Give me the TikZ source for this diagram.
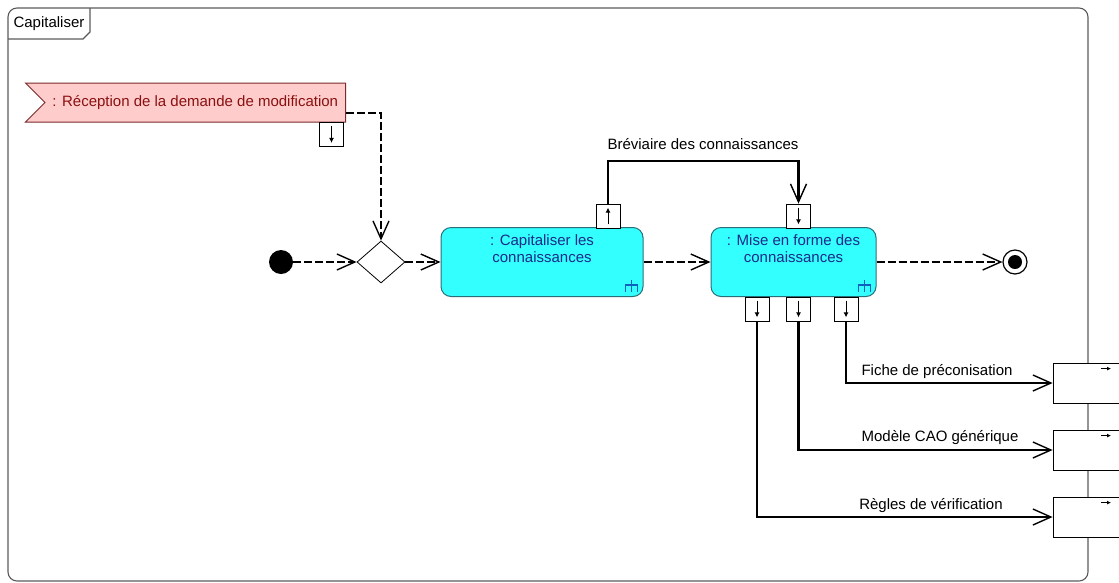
\documentclass[tikz,border=0pt]{standalone}
\usepackage{fontspec}
\setmainfont{Liberation Sans}
\usetikzlibrary{arrows.meta,shapes.geometric,shapes.symbols}
\definecolor{umlframe}{HTML}{5A5A5A}
\definecolor{umlaction}{HTML}{33FFFF}
\definecolor{umlactionedge}{HTML}{2A6E78}
\definecolor{umlactiontext}{HTML}{1A2A8A}
\definecolor{umlevent}{HTML}{FFCCCC}
\definecolor{umleventedge}{HTML}{7A2A2A}
\definecolor{umleventtext}{HTML}{8A1010}
\definecolor{umlrake}{HTML}{1060C0}

\begin{document}
\begin{tikzpicture}[
  x=1pt,
  y=-1pt,
  every node/.style={font=\fontsize{15}{17}\selectfont, inner sep=0pt},
  frame/.style={umlframe, line width=1.1pt},
  flow/.style={black, line width=2.2pt, dash pattern=on 8pt off 3pt,
    -{Straight Barb[length=18pt, width=16pt, line width=1.4pt]}},
  objflow/.style={black, line width=2.2pt,
    -{Straight Barb[length=18pt, width=16pt, line width=1.4pt]}},
  pinbox/.style={draw=black, fill=white, line width=0.8pt,
    minimum width=24pt, minimum height=24pt},
  outpin/.style={draw=black, fill=white, line width=0.8pt,
    minimum width=72pt, minimum height=40pt},
  pinarrow/.style={black, line width=1pt, -{Latex[length=5pt, width=5pt]}},
  action/.style={draw=umlactionedge, fill=umlaction, line width=1pt,
    rounded corners=10pt, minimum width=202pt, minimum height=69pt},
  acttext/.style={text=umlactiontext, align=center},
  event/.style={shape=signal, signal from=west, signal to=nowhere,
    signal pointer angle=90, draw=umleventedge, fill=umlevent,
    text=umleventtext, line width=1pt, minimum width=320pt, minimum height=39pt},
  rake/.style={umlrake, line width=1.1pt},
  flowlabel/.style={black}
]

  \useasboundingbox (0,0) rectangle (1119,582);
  \clip (0,0) rectangle (1119,582);

  %% ---- cadre ----------------------------------------------------------
  \draw[frame, rounded corners=9pt] (8,8) rectangle (1088,581);
  \draw[frame] (8,39) -- (83,39) -- (90,32) -- (90,8);
  \node (tabname) at (49,24) {Capitaliser};

  %% ---- evenement et fusion --------------------------------------------
  \node[event, anchor=east] (recv) at (346,102.5)
    {: Réception de la demande de modification};
  \node[pinbox] (pinrecv) at (331.5,134.5) {};
  \draw[pinarrow] ([yshift=-4pt]pinrecv.north) -- ([yshift=4pt]pinrecv.south);

  \node[circle, fill=black, minimum size=24pt] (start) at (281,262) {};
  \node[diamond, draw=black, fill=white, line width=0.8pt,
        minimum width=48pt, minimum height=42pt] (merge) at (381,262) {};

  %% ---- actions --------------------------------------------------------
  \node[action, label={[acttext, anchor=north, yshift=-7pt]north:{: Capitaliser les\\connaissances}}]
    (capit) at (542,262) {};
  \node[action, minimum width=165pt,
        label={[acttext, anchor=north, yshift=-7pt]north:{: Mise en forme des\\connaissances}}]
    (miseforme) at (793.5,262) {};

  \foreach \act in {capit, miseforme} {
    \draw[rake] ([xshift=-12pt, yshift=5pt]\act.south east)
      -- ([xshift=-12pt, yshift=17pt]\act.south east);
    \draw[rake] ([xshift=-18pt, yshift=5pt]\act.south east)
      -- ([xshift=-18pt, yshift=12pt]\act.south east)
      -- ([xshift=-6pt, yshift=12pt]\act.south east)
      -- ([xshift=-6pt, yshift=5pt]\act.south east);
  }

  \node[circle, draw=black, fill=white, line width=1.2pt, minimum size=24pt] (stop) at (1015,262) {};
  \fill[black] (stop.center) circle (7pt);

  %% ---- broches ---------------------------------------------------------
  \node[pinbox] (pinout) at (608,216) {};
  \draw[pinarrow] ([yshift=4pt]pinout.south) -- ([yshift=-4pt]pinout.north);
  \node[pinbox] (pinin) at (798.5,216) {};
  \draw[pinarrow] ([yshift=-4pt]pinin.north) -- ([yshift=4pt]pinin.south);

  \node[pinbox] (pinregle) at (757,309) {};
  \node[pinbox] (pinmodele) at (798.5,309) {};
  \node[pinbox] (pinfiche) at (846,309) {};
  \foreach \p in {pinregle, pinmodele, pinfiche}
    \draw[pinarrow] ([yshift=-4pt]\p.north) -- ([yshift=4pt]\p.south);

  \node[outpin] (outfiche) at (1089,383) {};
  \node[outpin] (outmodele) at (1089,450) {};
  \node[outpin] (outregle) at (1089,517) {};
  \foreach \o in {outfiche, outmodele, outregle}
    \draw[black, line width=0.9pt, -{Latex[length=4pt, width=4pt]}]
      ([xshift=12pt, yshift=-6pt]\o.north) -- ([xshift=22pt, yshift=-6pt]\o.north);

  %% ---- flots ------------------------------------------------------------
  \draw[flow] ([yshift=-10.5pt]recv.east) -| (merge.north);
  \draw[flow] (start) -- (merge);
  \draw[flow] (merge) -- (capit);
  \draw[flow] (capit) -- (miseforme);
  \draw[flow] (miseforme) -- (stop);

  \coordinate (brevtop) at (700,161);
  \draw[objflow] (pinout.north) -- (pinout.north |- brevtop)
    -- (pinin.north |- brevtop) -- (pinin.north);
  \node[flowlabel] (brevlabel) at (703,144) {Bréviaire des connaissances};

  \draw[objflow] (pinfiche.south) |- (outfiche.west);
  \draw[objflow] (pinmodele.south) |- (outmodele.west);
  \draw[objflow] (pinregle.south) |- (outregle.west);
  \node[flowlabel] (fichelabel) at (937,372) {Fiche de préconisation};
  \node[flowlabel] (modelelabel) at (940,438) {Modèle CAO générique};
  \node[flowlabel] (reglelabel) at (931,506) {Règles de vérification};

\end{tikzpicture}
\end{document}
